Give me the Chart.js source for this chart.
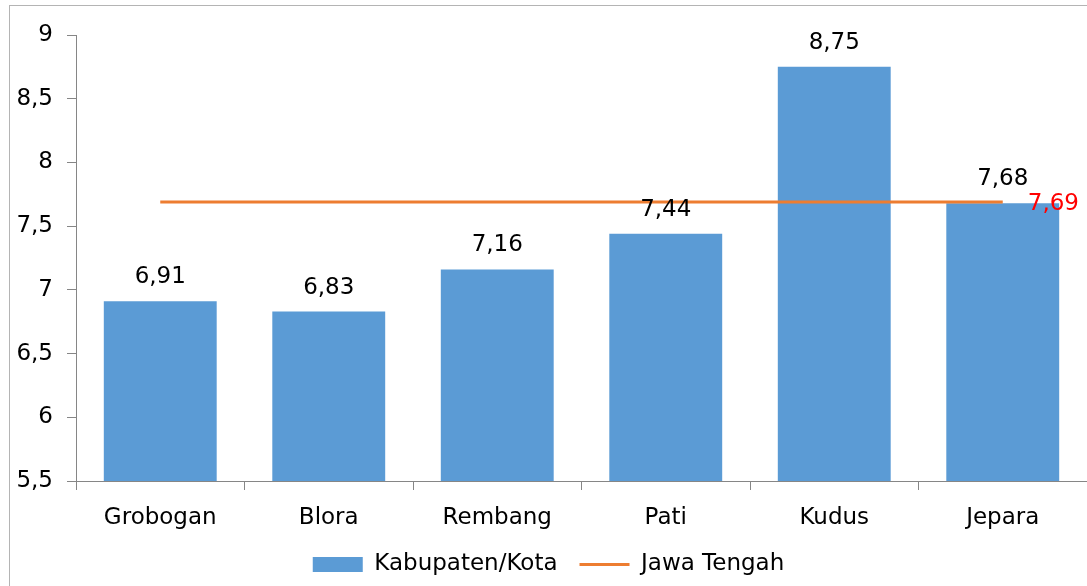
<!DOCTYPE html>
<html>
<head>
<meta charset="utf-8">
<script src="https://cdn.jsdelivr.net/npm/chart.js@4.4.0/dist/chart.umd.min.js"></script>
<style>
  body{margin:0;background:#fff;}
  #wrap{position:absolute;left:0;top:0;width:1087px;height:586px;}
  #frame{position:absolute;left:9px;top:5px;width:1100px;height:600px;border-left:1px solid #b4b4b4;border-top:1px solid #b4b4b4;pointer-events:none;}
</style>
</head>
<body>
<div id="wrap"><canvas id="grafico"></canvas></div>
<div id="frame"></div>
<script>
const kabupaten=['Grobogan','Blora','Rembang','Pati','Kudus','Jepara'];
const nilaiKab=[6.91,6.83,7.16,7.44,8.75,7.68];
const nilaiJateng=[7.69,7.69,7.69,7.69,7.69,7.69];
const tickY=[5.5,6,6.5,7,7.5,8,8.5,9];

const fuente='"DejaVu Sans", Verdana, sans-serif';
function koma(v){ return String(v).replace('.',','); }

// etiquetas de valor encima de las barras y al final de la linea
const etiquetas={
  id:'etiquetas',
  afterDatasetsDraw(chart){
    const ctx=chart.ctx;
    ctx.save();
    ctx.font='23px '+fuente;
    ctx.textAlign='center';
    ctx.textBaseline='alphabetic';
    ctx.fillStyle='#000';
    chart.getDatasetMeta(0).data.forEach((bar,i)=>{
      ctx.fillText(koma(nilaiKab[i]),bar.x,bar.y-18);
    });
    let puntos=chart.getDatasetMeta(1).data;
    let ultimo=puntos[puntos.length-1];
    ctx.fillStyle='#ff0000';
    ctx.textAlign='left';
    ctx.fillText(koma(nilaiJateng[nilaiJateng.length-1]),ultimo.x+25,ultimo.y+8);
    ctx.restore();
  }
};

let datos={
  labels:kabupaten,
  datasets:[
    {
      type:'bar',
      label:'Kabupaten/Kota',
      data:nilaiKab,
      backgroundColor:'#5B9BD5',
      borderWidth:0,
      categoryPercentage:1,
      barPercentage:0.67,
      pointStyle:'rect',
      order:1
    },
    {
      type:'line',
      label:'Jawa Tengah',
      data:nilaiJateng,
      borderColor:'#ED7D31',
      backgroundColor:'#ED7D31',
      borderWidth:3,
      pointRadius:0,
      pointStyle:'line',
      fill:false,
      order:0
    }
  ]
};

let opciones={
  responsive:true,
  maintainAspectRatio:false,
  animation:false,
  layout:{padding:{left:10,top:35,right:0,bottom:0}},
  plugins:{
    legend:{
      position:'bottom',
      labels:{
        usePointStyle:true,
        pointStyleWidth:50,
        boxHeight:15,
        padding:22,
        color:'#000',
        font:{family:fuente,size:23},
        sort:(a,b)=>a.datasetIndex-b.datasetIndex
      }
    },
    tooltip:{enabled:false}
  },
  scales:{
    x:{
      afterFit(s){ s.height=50; },
      grid:{drawOnChartArea:false,tickLength:9,color:'#868686',offset:true},
      border:{color:'#868686'},
      ticks:{color:'#000',padding:14,font:{family:fuente,size:23},maxRotation:0}
    },
    y:{
      min:5.5,
      max:9,
      afterFit(s){ s.width=66; },
      afterBuildTicks(s){ s.ticks=tickY.map(v=>({value:v})); },
      grid:{drawOnChartArea:false,tickLength:9,color:'#868686'},
      border:{color:'#868686'},
      ticks:{color:'#000',padding:14,font:{family:fuente,size:23},callback:v=>koma(v)}
    }
  }
};

let G1=new Chart(document.getElementById('grafico').getContext('2d'),{
  data:datos,
  options:opciones,
  plugins:[etiquetas]
});
</script>
</body>
</html>
